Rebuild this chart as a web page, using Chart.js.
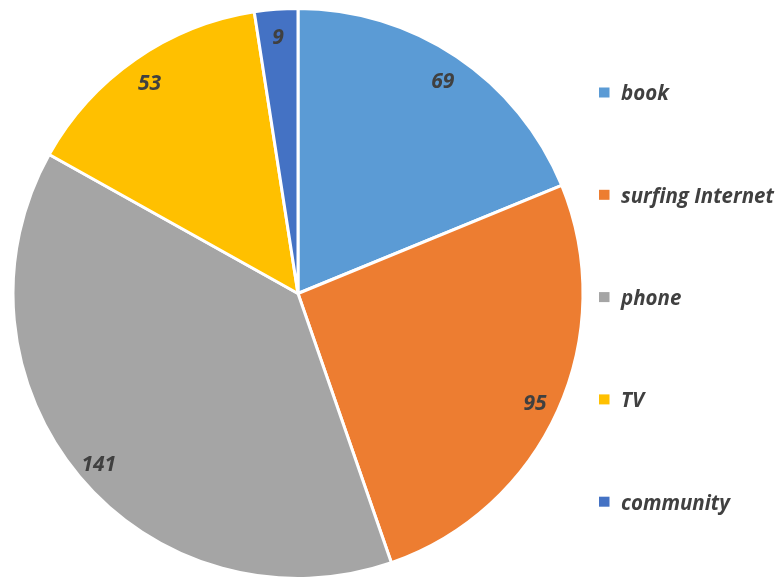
<!DOCTYPE html>
<html>
<head>
<meta charset="utf-8">
<script src="https://cdn.jsdelivr.net/npm/chart.js@4.4.1/dist/chart.umd.min.js"></script>
<style>
  html, body { margin: 0; padding: 0; background: #ffffff; }
  #wrap { width: 777px; height: 580px; position: relative; }
</style>
</head>
<body>
<div id="wrap"><canvas id="c" width="777" height="580"></canvas></div>
<script>
const categories = ['book', 'surfing Internet', 'phone', 'TV', 'community'];
const counts = [69, 95, 141, 53, 9];
const colors = ['#5B9BD5', '#ED7D31', '#A5A5A5', '#FFC000', '#4472C4'];

const FONT = '"Open Sans", Lato, sans-serif';
const TEXT_COLOR = '#404040';

// Value labels near the outer edge of each slice
const sliceLabels = {
  id: 'sliceLabels',
  afterDatasetsDraw(chart) {
    const ctx = chart.ctx;
    const meta = chart.getDatasetMeta(0);
    ctx.save();
    ctx.font = 'italic bold 21px ' + FONT;
    ctx.fillStyle = TEXT_COLOR;
    ctx.textAlign = 'center';
    ctx.textBaseline = 'middle';
    meta.data.forEach((arc, i) => {
      const p = arc.getProps(['x', 'y', 'startAngle', 'endAngle', 'outerRadius'], true);
      const mid = (p.startAngle + p.endAngle) / 2;
      const r = p.outerRadius - 25;
      ctx.fillText(String(counts[i]), p.x + Math.cos(mid) * r, p.y + Math.sin(mid) * r + 4);
    });
    ctx.restore();
  }
};

// Legend column on the right
const sideLegend = {
  id: 'sideLegend',
  afterDraw(chart) {
    const ctx = chart.ctx;
    ctx.save();
    ctx.font = 'italic bold 20.5px ' + FONT;
    ctx.textBaseline = 'middle';
    ctx.textAlign = 'left';
    const x0 = 599, y0 = 92.5, step = 102.3;
    categories.forEach((name, i) => {
      const y = y0 + i * step;
      ctx.fillStyle = colors[i];
      ctx.fillRect(x0, y - 5, 10.5, 10);
      ctx.fillStyle = TEXT_COLOR;
      ctx.fillText(name, x0 + 22, y + 2);
    });
    ctx.restore();
  }
};

new Chart(document.getElementById('c'), {
  type: 'pie',
  data: {
    labels: categories,
    datasets: [{
      data: counts,
      backgroundColor: colors,
      borderColor: '#ffffff',
      borderWidth: 3
    }]
  },
  options: {
    responsive: false,
    animation: false,
    layout: { padding: { left: 11.5, top: 7, right: 192.5, bottom: 0 } },
    plugins: {
      legend: { display: false },
      tooltip: { enabled: false }
    }
  },
  plugins: [sliceLabels, sideLegend]
});
</script>
</body>
</html>
